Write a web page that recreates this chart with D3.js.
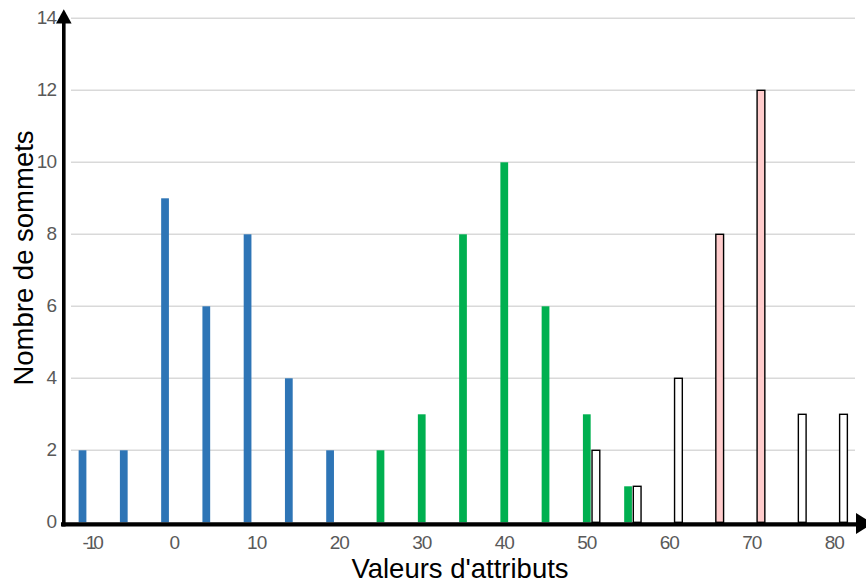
<!DOCTYPE html>
<html>
<head>
<meta charset="utf-8">
<script src="https://cdn.jsdelivr.net/npm/d3@7/dist/d3.min.js"></script>
<style>
  html, body { margin: 0; padding: 0; background: #ffffff; }
  svg { display: block; font-family: "Liberation Sans", Arial, sans-serif; }
</style>
</head>
<body>
<svg id="chart" width="866" height="584"></svg>
<script>
// ---- data ----
const categories = [-10, -5, 0, 5, 10, 15, 20, 25, 30, 35, 40, 45, 50, 55, 60, 65, 70, 75, 80];
const seriesNames = ["s1", "s2", "s3"];
const series1 = [2, 2, 9, 6, 8, 4, 2, null, null, null, null, null, null, null, null, null, null, null, null];
const series2 = [null, null, null, null, null, null, null, 2, 3, 8, 10, 6, 3, 1, null, null, null, null, null];
const series3 = [null, null, null, null, null, null, null, null, null, null, null, null, 2, 1, 4, 8, 12, 3, 3];
const series3Highlight = [false, false, false, false, false, false, false, false, false, false, false, false, false, false, false, true, true, false, false];
const yTicks = [0, 2, 4, 6, 8, 10, 12, 14];
const xTickLabels = [-10, 0, 10, 20, 30, 40, 50, 60, 70, 80];
const xTitle = "Valeurs d'attributs";
const yTitle = "Nombre de sommets";

// ---- layout ----
const svg = d3.select("#chart");
const plot = { left: 71, right: 855, top: 18.3, bottom: 522.3 };

const x = d3.scaleBand().domain(categories).range([plot.left, plot.right])
  .paddingInner(0.37).paddingOuter(0.185);
const xs = d3.scaleBand().domain(seriesNames).range([0, x.bandwidth()]).paddingInner(0.15);
const y = d3.scaleLinear().domain([0, 14]).range([plot.bottom, plot.top]);

// gridlines
svg.append("g").selectAll("line").data(yTicks.filter(d => d > 0)).join("line")
  .attr("x1", plot.left).attr("x2", plot.right)
  .attr("y1", d => y(d)).attr("y2", d => y(d))
  .attr("stroke", "#d9d9d9").attr("stroke-width", 1.4);

// bars
const seriesData = [
  { key: "s1", values: series1, fill: () => "#2e75b6", stroke: "none" },
  { key: "s2", values: series2, fill: () => "#00b050", stroke: "none" },
  { key: "s3", values: series3, fill: i => series3Highlight[i] ? "#ffcccc" : "#ffffff", stroke: "#000000" }
];
seriesData.forEach(s => {
  const pts = categories.map((c, i) => ({ c, v: s.values[i], i })).filter(d => d.v != null);
  svg.append("g").selectAll("rect").data(pts).join("rect")
    .attr("x", d => x(d.c) + xs(s.key))
    .attr("width", xs.bandwidth())
    .attr("y", d => y(d.v))
    .attr("height", d => y(0) - y(d.v))
    .attr("fill", d => s.fill(d.i))
    .attr("stroke", s.stroke)
    .attr("stroke-width", s.stroke === "none" ? 0 : 1.4);
});

// y tick labels
const yAxis = d3.axisLeft(y).tickValues(yTicks).tickSize(0).tickPadding(0);
const gy = svg.append("g").attr("transform", "translate(56,0)").call(yAxis);
gy.select(".domain").remove();
gy.selectAll("text")
  .attr("fill", "#595959").attr("font-size", 19).attr("letter-spacing", "-1px")
  .attr("font-family", "Liberation Sans, Arial, sans-serif")
  .attr("dy", "0.27em");

// x tick labels
const xAxis = d3.axisBottom(x).tickValues(xTickLabels).tickSize(0).tickPadding(0);
const gx = svg.append("g").attr("transform", `translate(0,${plot.bottom})`).call(xAxis);
gx.select(".domain").remove();
gx.selectAll("text")
  .attr("fill", "#595959").attr("font-size", 19)
  .attr("letter-spacing", d => d < 0 ? "-3px" : "-1px")
  .attr("font-family", "Liberation Sans, Arial, sans-serif")
  .attr("y", 27).attr("dy", 0);

// axis lines with arrows
svg.append("line").attr("x1", 61).attr("x2", 857).attr("y1", 524.3).attr("y2", 524.3)
  .attr("stroke", "#000").attr("stroke-width", 4.2);
svg.append("path").attr("d", "M856,513 L873,523.5 L856,534 Z").attr("fill", "#000");
svg.append("line").attr("x1", 63.8).attr("x2", 63.8).attr("y1", 526.4).attr("y2", 22)
  .attr("stroke", "#000").attr("stroke-width", 3.6);
svg.append("path").attr("d", "M56,23.5 L63.8,9.3 L71.6,23.5 Z").attr("fill", "#000");

// axis titles
svg.append("text").attr("x", 460).attr("y", 577.5).attr("text-anchor", "middle")
  .attr("font-size", 27.5).attr("fill", "#000").text(xTitle);
svg.append("text").attr("transform", "translate(33,258) rotate(-90)").attr("text-anchor", "middle")
  .attr("font-size", 27.5).attr("fill", "#000").text(yTitle);
</script>
</body>
</html>
